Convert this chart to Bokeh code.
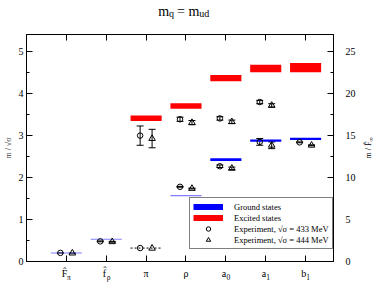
import numpy as np
from bokeh.plotting import figure
from bokeh.models import (Range1d, LinearAxis, FixedTicker, SingleIntervalTicker, Label,
                          ColumnDataSource, Whisker, TeeHead, Legend, LegendItem, Grid)
from bokeh.embed import file_html
from bokeh.resources import INLINE

# ---------------- data ----------------
cat_pos = [1, 2, 3, 4, 5, 6, 7]
cat_main = ["F\u0302", "f\u0302", "π", "ρ", "a", "a", "b"]
cat_sub = ["π", "ρ", "", "", "0", "1", "1"]

ground_idx = [1, 2, 4, 5, 6, 7]
ground_val = [0.20, 0.53, 1.57, 2.43, 2.88, 2.925]
ground_err = [0.012, 0.012, 0.012, 0.032, 0.027, 0.027]

input_idx = [3]          # pion mass used as input (dotted)
input_val = [0.32]

excited_idx = [3, 4, 5, 6, 7]
excited_val = [3.414, 3.706, 4.371, 4.60, 4.62]
excited_err = [0.068, 0.067, 0.076, 0.09, 0.11]

exp_idx = [1, 2, 3, 3, 4, 4, 5, 5, 6, 6, 7]
exp433_val = [0.205, 0.48, 0.32, 3.00, 1.78, 3.39, 2.27, 3.41, 2.85, 3.80, 2.84]
exp433_err = [0.005, 0.01, 0.0, 0.23, 0.01, 0.05, 0.03, 0.04, 0.08, 0.04, 0.01]
exp444_val = [0.200, 0.47, 0.315, 2.93, 1.74, 3.31, 2.22, 3.33, 2.77, 3.72, 2.77]
exp444_err = [0.005, 0.01, 0.0, 0.22, 0.01, 0.05, 0.03, 0.04, 0.08, 0.04, 0.01]

title_main = ["m", "= m"]
title_sub = ["q", "ud"]

left_ticks_interval = 1
right_ticks_interval = 5
right_scale = 5.0
y_max = 5.41
x_min, x_max = 0.0, 7.7

FONT = "Liberation Serif"
HALF = 0.39      # half width of bands
OFF = 0.15       # horizontal offset of experimental points

# frame placement (canvas px)
FL, FR, FT, FB = 20, 333, 34, 262
W, H = 374, 284
PX_X = (FR - FL) / (x_max - x_min)
PX_Y = (FB - FT) / y_max


def xd(cx):
    return x_min + (cx - FL) / PX_X


# ---------------- figure ----------------
p = figure(width=W, height=H, output_backend="svg", toolbar_location=None,
           x_range=Range1d(x_min, x_max), y_range=Range1d(0, y_max),
           min_border_left=FL, min_border_right=W - FR, min_border_top=FT,
           min_border_bottom=H - FB,
           x_axis_location=None, y_axis_location=None)
p.center = [r for r in p.center if not isinstance(r, Grid)]
p.outline_line_color = "black"
p.outline_line_width = 1
p.background_fill_color = "white"
p.border_fill_color = "white"
p.extra_y_ranges = {"r": Range1d(0, y_max * right_scale)}


def style_axis(ax, tick_in=6, minor_in=3):
    ax.axis_line_color = "black"
    ax.major_tick_line_color = "black"
    ax.minor_tick_line_color = "black"
    ax.major_tick_in = tick_in
    ax.major_tick_out = 0
    ax.minor_tick_in = minor_in
    ax.minor_tick_out = 0
    ax.major_label_text_font = FONT
    ax.major_label_text_font_size = "10px"
    ax.major_label_text_color = "black"


def text_axis(ticks, texts, size, standoff, loc):
    """an axis that only carries texts at given positions"""
    ax = LinearAxis(ticker=FixedTicker(ticks=ticks, minor_ticks=[]))
    ax.axis_line_color = None
    ax.major_tick_line_color = None
    ax.minor_tick_line_color = None
    ax.major_tick_in = 0
    ax.major_tick_out = 0
    ax.major_label_overrides = {t: s for t, s in zip(ticks, texts)}
    ax.major_label_text_font = FONT
    ax.major_label_text_font_size = size
    ax.major_label_text_color = "black"
    ax.major_label_standoff = standoff
    p.add_layout(ax, loc)


ax_l = LinearAxis(ticker=SingleIntervalTicker(interval=left_ticks_interval, num_minor_ticks=2))
style_axis(ax_l)
ax_l.major_label_standoff = 3
ax_l.axis_label = "m / √σ"
ax_l.axis_label_text_font = FONT
ax_l.axis_label_text_font_size = "8px"
ax_l.axis_label_text_font_style = "normal"
ax_l.axis_label_standoff = 3
p.add_layout(ax_l, "left")

ax_r = LinearAxis(y_range_name="r", ticker=SingleIntervalTicker(interval=right_ticks_interval, num_minor_ticks=2))
style_axis(ax_r)
ax_r.major_label_standoff = 12
p.add_layout(ax_r, "right")

# tick-only category axes (bottom and top)
for loc in ("below", "above"):
    ax = LinearAxis(ticker=FixedTicker(ticks=cat_pos, minor_ticks=[]))
    style_axis(ax)
    ax.major_label_overrides = {c: "" for c in cat_pos}
    ax.major_label_text_font_size = "0px"
    ax.major_label_standoff = 0
    p.add_layout(ax, loc)

# category names and their subscripts (px offsets from the tick)
main_ticks, main_txt, sub_ticks, sub_txt = [], [], [], []
for c, m, s in zip(cat_pos, cat_main, cat_sub):
    if s:
        main_ticks.append(c - 1.9 / PX_X)
        sub_ticks.append(c + 2.5 / PX_X)
        sub_txt.append(s)
    else:
        main_ticks.append(c)
    main_txt.append(m)
text_axis(main_ticks, main_txt, "10px", 6, "below")
text_axis(sub_ticks, sub_txt, "7.5px", -9, "below")

# title m_q = m_ud (px offsets from its centre)
tc = xd(180.3)
text_axis([tc - 20.4 / PX_X, tc + 4.6 / PX_X], title_main, "14px", 16, "above")
text_axis([tc - 12.5 / PX_X, tc + 20.8 / PX_X], title_sub, "10px", -18, "above")

# ---------------- bands ----------------
gx = np.array(ground_idx, dtype=float)
gv = np.array(ground_val)
ge = np.array(ground_err)
g_col = ["#8080ff" if e < 0.02 else "#0000ff" for e in ground_err]
p.quad(left=gx - HALF, right=gx + HALF, bottom=gv - ge, top=gv + ge,
       fill_color=g_col, line_color=None)

ex = np.array(excited_idx, dtype=float)
ev = np.array(excited_val)
ee = np.array(excited_err)
p.quad(left=ex - HALF, right=ex + HALF, bottom=ev - ee, top=ev + ee,
       fill_color="#ff0000", line_color=None)

ix = np.array(input_idx, dtype=float)
p.segment(x0=ix - HALF, x1=ix + HALF, y0=input_val, y1=input_val,
          line_color="black", line_width=1, line_dash="2 2")

# ---------------- experiment ----------------
x433 = np.array(exp_idx, dtype=float) - OFF
x444 = np.array(exp_idx, dtype=float) + OFF
r433 = p.scatter(x433, exp433_val, marker="circle", size=5.5, fill_color=None,
                 line_color="black", line_width=1)
r444 = p.scatter(x444, exp444_val, marker="triangle", size=6.5, fill_color=None,
                 line_color="black", line_width=1)

for xs, vals, errs in ((x433, exp433_val, exp433_err), (x444, exp444_val, exp444_err)):
    keep = [i for i, e in enumerate(errs) if e > 0]
    src = ColumnDataSource(dict(
        x=[xs[i] for i in keep],
        lower=[vals[i] - errs[i] for i in keep],
        upper=[vals[i] + errs[i] for i in keep]))
    w = Whisker(source=src, base="x", lower="lower", upper="upper", dimension="height",
                line_color="black", line_width=1,
                upper_head=TeeHead(size=7, line_color="black", line_width=1),
                lower_head=TeeHead(size=7, line_color="black", line_width=1))
    p.add_layout(w)

# ---------------- legend ----------------
# legend handles: thick line samples kept outside the visible ranges
hx = [x_min - 2, x_min - 1]
hy = [-1, -1]
leg_g = p.line(x=hx, y=hy, line_color="#0000ff", line_width=6)
leg_e = p.line(x=hx, y=hy, line_color="#ff0000", line_width=6)
legend = Legend(items=[
    LegendItem(label="Ground states", renderers=[leg_g]),
    LegendItem(label="Excited states", renderers=[leg_e]),
    LegendItem(label="Experiment, √σ = 433 MeV", renderers=[r433]),
    LegendItem(label="Experiment, √σ = 444 MeV", renderers=[r444]),
], location=(163, 12), orientation="vertical", glyph_width=30, glyph_height=11,
    label_height=11, label_standoff=11, spacing=0, padding=3, margin=0,
    border_line_color="black", border_line_width=1, background_fill_color="white",
    background_fill_alpha=1, label_text_font=FONT, label_text_font_size="8.5px",
    label_text_color="black")
p.add_layout(legend)

# ---------------- right axis title m / F^_inf ----------------
yc = y_max / 2
yj = yc + 6.5 / PX_Y
p.add_layout(Label(x=xd(369), y=yj, text="m / F\u0302", text_font=FONT, text_font_size="8px",
                   text_align="right", text_baseline="middle", angle=np.pi / 2,
                   text_color="black"), "right")
p.add_layout(Label(x=xd(369), y=yj, x_offset=2.5, text="∞", text_font=FONT,
                   text_font_size="6px", text_align="left", text_baseline="middle",
                   angle=np.pi / 2, text_color="black"), "right")

open("out.html", "w").write(file_html(p, INLINE))
